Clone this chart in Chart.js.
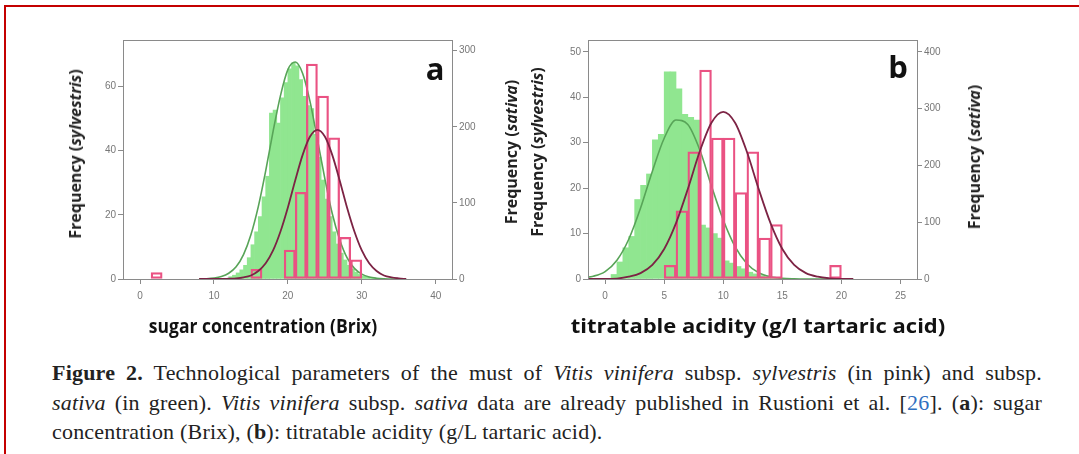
<!DOCTYPE html>
<html>
<head>
<meta charset="utf-8">
<script src="https://cdn.jsdelivr.net/npm/chart.js@4.4.1/dist/chart.umd.min.js"></script>
<style>
body { margin:0; background:#fff; width:1079px; height:454px; overflow:hidden; position:relative; font-family:"Open Sans", sans-serif; }
.marco { position:absolute; left:4px; top:5px; width:1100px; height:500px; border-top:2px solid #c40000; border-left:2px solid #c40000; }
.grafica { position:absolute; top:30px; width:430px; height:285px; }
.ytitulo { position:absolute; transform:translate(-50%,-50%) rotate(-90deg); white-space:nowrap; font-weight:700; font-size:16px; color:#222; }
.xtitulo { position:absolute; white-space:nowrap; font-weight:700; font-size:20px; color:#111; }
.letra { position:absolute; transform:translate(-50%,-50%); font-weight:700; font-size:31px; color:#111; }
.pie { position:absolute; left:52px; width:990px; height:29px; line-height:29px; font-family:"Liberation Serif", serif; font-size:22px; letter-spacing:0.2px; color:#222; }
.justo { text-align:justify; text-align-last:justify; }
</style>
</head>
<body>
<div class="marco"></div>

<div class="grafica" style="left:83px"><canvas id="graficaA"></canvas></div>
<div class="grafica" style="left:548px"><canvas id="graficaB"></canvas></div>

<div class="ytitulo" style="left:75px; top:154px">Frequency (<i>sylvestris</i>)</div>
<div class="ytitulo" style="left:511px; top:152px">Frequency (<i>sativa</i>)</div>
<div class="ytitulo" style="left:537px; top:152px">Frequency (<i>sylvestris</i>)</div>
<div class="ytitulo" style="left:974px; top:157px">Frequency (<i>sativa</i>)</div>

<div class="xtitulo" style="left:263px; top:325px; transform:translate(-50%,-50%) scaleX(0.875)">sugar concentration (Brix)</div>
<div class="xtitulo" style="left:758px; top:325px; transform:translate(-50%,-50%) scaleX(1.1)">titratable acidity (g/l tartaric acid)</div>

<div class="letra" style="left:435px; top:68px">a</div>
<div class="letra" style="left:898px; top:66px">b</div>

<div class="pie justo" style="top:358px"><b>Figure 2.</b> Technological parameters of the must of <i>Vitis vinifera</i> subsp. <i>sylvestris</i> (in pink) and subsp.</div>
<div class="pie justo" style="top:388px"><i>sativa</i> (in green). <i>Vitis vinifera</i> subsp. <i>sativa</i> data are already published in Rustioni et al. [<span style="color:#2f6fc0">26</span>]. (<b>a</b>): sugar</div>
<div class="pie" style="top:417px">concentration (Brix), (<b>b</b>): titratable acidity (g/L tartaric acid).</div>

<script>
// ---- Grafica a: sugar concentration (Brix) ----
// histograma sylvestris (rosa, eje izquierdo), bins de 1.5
const binsRosaA = [2.25, 15.75, 20.25, 21.75, 23.25, 24.75, 26.25, 27.75, 29.25];
const frecRosaA = [2, 3, 9, 27, 67, 57, 44, 13, 6];
// histograma sativa (verde, eje derecho), bins de 0.5
const binsVerdeA = [12.25, 12.75, 13.25, 13.75, 14.25, 14.75, 15.25, 15.75, 16.25, 16.75,
                    17.25, 17.75, 18.25, 18.75, 19.25, 19.75, 20.25, 20.75, 21.25, 21.75,
                    22.25, 22.75, 23.25, 23.75, 24.25, 24.75, 25.25, 25.75, 26.25, 26.75,
                    27.25, 27.75, 28.25, 28.75, 29.25, 29.75, 30.25, 30.75, 31.25, 31.75];
const frecVerdeA = [3, 5, 8, 12, 18, 28, 45, 62, 82, 108,
                    135, 218, 222, 205, 238, 258, 276, 284, 280, 262,
                    240, 228, 224, 190, 160, 130, 105, 82, 62, 46,
                    34, 25, 18, 13, 9, 6, 4, 3, 2, 1];
// curvas normales
const curvaXA = [8, 9, 10, 11, 12, 13, 14, 15, 16, 17, 18, 19, 20, 21, 22, 23, 24, 25, 26, 27, 28, 29, 30, 31, 32, 33, 34, 35, 36];
const curvaVerdeA = [0, 0.3, 1.2, 3.2, 7.5, 16, 32, 58, 95, 142, 194, 241, 275, 285, 270, 233, 183, 132, 86, 52, 28, 14, 6.4, 2.6, 1, 0.3, 0, 0, 0];
const curvaRosaA = [0, 0, 0, 0, 0.1, 0.2, 0.5, 1.1, 2.5, 4.9, 8.9, 14.8, 22.3, 30.8, 38.7, 44.4, 46.5, 44.4, 38.7, 30.8, 22.3, 14.8, 8.9, 4.9, 2.5, 1.1, 0.5, 0.2, 0];

// ---- Grafica b: titratable acidity ----
const binsRosaB = [5.5, 6.5, 7.5, 8.5, 9.5, 10.5, 11.5, 12.5, 13.5, 14.5, 19.5];
const frecRosaB = [3, 15, 28, 46, 31, 31, 19, 28, 9, 12, 3];
const binsVerdeB = [0.75, 1.25, 1.75, 2.25, 2.75, 3.25, 3.75, 4.25, 4.75, 5.25,
                    5.75, 6.25, 6.75, 7.25, 7.75, 8.25, 8.75, 9.25, 9.75, 10.25,
                    10.75, 11.25, 11.75, 12.25, 12.75, 13.25, 13.75, 14.25, 14.75];
const frecVerdeB = [8, 30, 55, 75, 140, 165, 185, 245, 255, 365,
                    365, 335, 290, 285, 280, 95, 90, 80, 72, 32,
                    28, 22, 18, 12, 9, 6, 4, 2, 1];
const curvaXB = [-2, -1, 0, 1, 2, 3, 4, 5, 6, 7, 8, 9, 10, 11, 12, 13, 14, 15, 16, 17, 18, 19, 20, 21];
const curvaVerdeB = [2, 5, 13, 33, 70, 125, 190, 248, 280, 272, 228, 164, 104, 57, 27, 11, 4, 1.2, 0.3, 0, 0, 0, 0, 0];
const curvaRosaB = [0, 0, 0, 0.1, 0.5, 1.3, 3.1, 6.6, 12.3, 19.8, 28, 34.4, 36.8, 34.4, 28, 19.8, 12.3, 6.6, 3.1, 1.3, 0.5, 0.15, 0, 0];

// colores
const verdeRelleno = '#90e690';
const verdeLinea = '#58a458';
const rosaBorde = '#ea5283';
const rosaLinea = '#7c2344';
const gris = '#8a8a8a';

const puntos = (xs, ys) => xs.map((x, i) => ({ x: x, y: ys[i] }));

// marco gris alrededor del area del grafico
const marcoPlugin = {
    id: 'marco',
    afterDatasetsDraw(chart) {
        const { ctx, chartArea: a } = chart;
        ctx.save();
        ctx.strokeStyle = gris;
        ctx.lineWidth = 1;
        ctx.strokeRect(Math.round(a.left) + 0.5, Math.round(a.top) + 0.5, Math.round(a.right - a.left), Math.round(a.bottom - a.top));
        ctx.restore();
    }
};

const fuenteTicks = { family: 'Liberation Sans', size: 10 };

function ejeY(pos, max, paso, ancho) {
    return {
        type: 'linear', position: pos, min: 0, max: max,
        ticks: { stepSize: paso, includeBounds: false, color: '#777', font: fuenteTicks, padding: 2 },
        grid: { drawOnChartArea: false, tickLength: 5, color: gris },
        border: { color: gris },
        afterFit: s => { s.width = ancho; }
    };
}

function ejeX(min, max, paso) {
    return {
        type: 'linear', position: 'bottom', min: min, max: max, offset: false,
        ticks: { stepSize: paso, includeBounds: false, color: '#777', font: fuenteTicks, padding: 6 },
        grid: { drawOnChartArea: false, tickLength: 5, color: gris, offset: false },
        border: { color: gris },
        afterFit: s => { s.height = 36; }
    };
}

function histograma(canvas, d) {
    return new Chart(canvas, {
        type: 'bar',
        data: {
            datasets: [
                {
                    type: 'line', data: puntos(d.curvaX, d.curvaRosa), xAxisID: 'x', yAxisID: 'yL',
                    borderColor: rosaLinea, borderWidth: 1.8, pointRadius: 0, cubicInterpolationMode: 'monotone', order: 1
                },
                {
                    type: 'bar', data: puntos(d.binsRosa, d.frecRosa), xAxisID: 'x', yAxisID: 'yL',
                    backgroundColor: 'rgba(255,255,255,0)', borderColor: rosaBorde, borderWidth: 1.6,
                    borderSkipped: false, grouped: false, barPercentage: 1, categoryPercentage: 1, order: 2
                },
                {
                    type: 'line', data: puntos(d.curvaX, d.curvaVerde), xAxisID: 'x', yAxisID: 'yR',
                    borderColor: verdeLinea, borderWidth: 1.6, pointRadius: 0, cubicInterpolationMode: 'monotone', order: 3
                },
                {
                    type: 'bar', data: puntos(d.binsVerde, d.frecVerde), xAxisID: 'x2', yAxisID: 'yR',
                    backgroundColor: verdeRelleno, borderWidth: 0, grouped: false, barPercentage: 1, categoryPercentage: 1, order: 4
                }
            ]
        },
        options: {
            responsive: true,
            maintainAspectRatio: false,
            animation: false,
            layout: { padding: { top: 10, left: 0, right: 0, bottom: 0 } },
            plugins: { legend: { display: false }, tooltip: { enabled: false } },
            scales: {
                x: ejeX(d.xMin, d.xMax, d.xPaso),
                x2: { type: 'linear', display: false, min: d.xMin, max: d.xMax, offset: false },
                yL: ejeY('left', d.yMaxL, d.pasoL, 40),
                yR: ejeY('right', d.yMaxR, 100, 61)
            }
        },
        plugins: [marcoPlugin]
    });
}

histograma(document.querySelector('#graficaA'), {
    binsRosa: binsRosaA, frecRosa: frecRosaA, binsVerde: binsVerdeA, frecVerde: frecVerdeA,
    curvaX: curvaXA, curvaVerde: curvaVerdeA, curvaRosa: curvaRosaA,
    xMin: -2.3, xMax: 42.2, xPaso: 10, yMaxL: 74.5, pasoL: 20, yMaxR: 314
});

histograma(document.querySelector('#graficaB'), {
    binsRosa: binsRosaB, frecRosa: frecRosaB, binsVerde: binsVerdeB, frecVerde: frecVerdeB,
    curvaX: curvaXB, curvaVerde: curvaVerdeB, curvaRosa: curvaRosaB,
    xMin: -1.45, xMax: 26.4, xPaso: 5, yMaxL: 52.6, pasoL: 10, yMaxR: 421
});
</script>
</body>
</html>
